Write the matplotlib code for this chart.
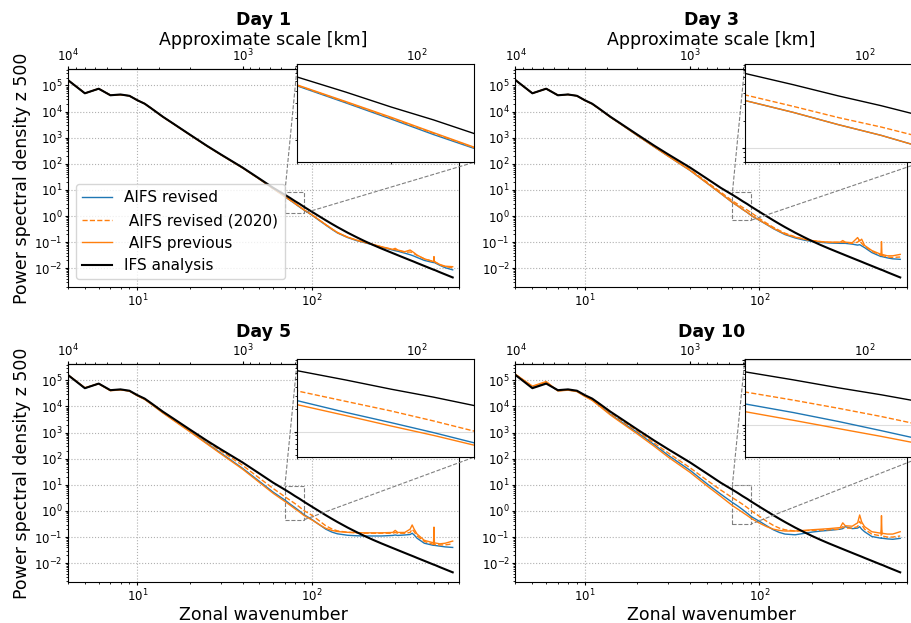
import matplotlib
matplotlib.use("Agg")
import matplotlib.pyplot as plt
import numpy as np
from mpl_toolkits.axes_grid1.inset_locator import mark_inset

wavenumber = [4, 5, 6, 7, 8, 9, 10, 11, 12, 14, 16, 20, 25, 30, 40, 50, 60,
              70, 75, 80, 85, 90,
              100, 110, 120, 130, 140, 160, 180, 200, 225, 250,
              290, 300, 310, 340, 365, 375, 385, 400, 440,
              497, 500, 503, 540, 580, 640]

ifs_analysis = [1.6e5, 5.0e4, 7.5e4, 4.2e4, 4.5e4, 4.0e4, 2.7e4, 2.0e4, 1.33e4,
                6.3e3, 3.5e3, 1.3e3, 4.9e2, 2.3e2, 72, 27, 12,
                6.5, 4.9, 3.7, 2.9, 2.25,
                1.45, 0.98, 0.686, 0.50, 0.376, 0.231, 0.155, 0.110, 0.077, 0.057,
                0.038, 0.0347, 0.0317, 0.0247, 0.0204, 0.019, 0.0177, 0.0159, 0.0123,
                0.00885, 0.0087, 0.00865, 0.00706, 0.00582, 0.00446]

# Day 1
revised_day1 = [1.6e5, 5.0e4, 7.4e4, 4.3e4, 4.4e4, 4.0e4, 2.7e4, 2.0e4, 1.33e4,
                6.3e3, 3.5e3, 1.3e3, 4.8e2, 2.25e2, 70, 26, 11,
                5.5, 4.0, 2.95, 2.2, 1.7,
                1.08, 0.68, 0.45, 0.31, 0.225, 0.15, 0.115, 0.096, 0.078, 0.064,
                0.050, 0.047, 0.045, 0.038, 0.033, 0.031, 0.029, 0.026, 0.020,
                0.0165, 0.0175, 0.0165, 0.013, 0.0105, 0.0087]
revised2020_day1 = [1.6e5, 5.0e4, 7.5e4, 4.25e4, 4.4e4, 4.0e4, 2.7e4, 2.0e4, 1.33e4,
                    6.25e3, 3.48e3, 1.29e3, 4.8e2, 2.25e2, 70, 26, 11.1,
                    5.55, 4.05, 3.0, 2.25, 1.72,
                    1.1, 0.7, 0.46, 0.318, 0.23, 0.153, 0.118, 0.098, 0.08, 0.066,
                    0.052, 0.052, 0.049, 0.041, 0.042, 0.040, 0.036, 0.031, 0.023,
                    0.018, 0.019, 0.018, 0.0135, 0.0115, 0.0105]
previous_day1 = [1.6e5, 5.0e4, 7.5e4, 4.2e4, 4.4e4, 4.0e4, 2.7e4, 2.0e4, 1.33e4,
                 6.2e3, 3.45e3, 1.28e3, 4.8e2, 2.25e2, 70, 26, 11.2,
                 5.6, 4.1, 3.05, 2.28, 1.74,
                 1.12, 0.71, 0.47, 0.325, 0.235, 0.156, 0.12, 0.099, 0.081, 0.067,
                 0.053, 0.058, 0.05, 0.043, 0.05, 0.044, 0.039, 0.032, 0.023,
                 0.018, 0.028, 0.018, 0.014, 0.012, 0.0115]

# Day 3
revised_day3 = [1.6e5, 5.0e4, 7.5e4, 4.2e4, 4.5e4, 4.0e4, 2.65e4, 1.95e4, 1.3e4,
                6.1e3, 3.35e3, 1.2e3, 4.4e2, 1.96e2, 56, 18.3, 7.3,
                3.3, 2.45, 1.8, 1.38, 1.03,
                0.68, 0.47, 0.33, 0.25, 0.195, 0.145, 0.12, 0.106, 0.098, 0.093,
                0.09, 0.09, 0.09, 0.084, 0.077, 0.08, 0.072, 0.062, 0.040,
                0.028, 0.03, 0.028, 0.025, 0.023, 0.022]
revised2020_day3 = [1.6e5, 5.0e4, 7.5e4, 4.2e4, 4.5e4, 4.0e4, 2.67e4, 1.97e4, 1.31e4,
                    6.2e3, 3.4e3, 1.23e3, 4.5e2, 2.05e2, 60, 20, 8.2,
                    3.8, 2.85, 2.15, 1.7, 1.32,
                    0.8, 0.53, 0.37, 0.28, 0.22, 0.16, 0.13, 0.114, 0.104, 0.098,
                    0.097, 0.10, 0.097, 0.09, 0.10, 0.12, 0.09, 0.07, 0.045,
                    0.031, 0.04, 0.031, 0.027, 0.026, 0.027]
previous_day3 = [1.6e5, 5.0e4, 7.5e4, 4.2e4, 4.5e4, 4.0e4, 2.65e4, 1.95e4, 1.3e4,
                 6.1e3, 3.35e3, 1.2e3, 4.4e2, 1.95e2, 56, 18.2, 7.3,
                 3.3, 2.45, 1.8, 1.38, 1.03,
                 0.69, 0.48, 0.34, 0.26, 0.205, 0.155, 0.13, 0.115, 0.105, 0.10,
                 0.10, 0.115, 0.10, 0.095, 0.15, 0.11, 0.13, 0.075, 0.048,
                 0.034, 0.105, 0.034, 0.030, 0.030, 0.034]

# Day 5
revised_day5 = [1.6e5, 5.0e4, 7.5e4, 4.1e4, 4.4e4, 3.9e4, 2.6e4, 1.9e4, 1.25e4,
                5.8e3, 3.15e3, 1.13e3, 3.9e2, 1.66e2, 43, 13.5, 5.2,
                2.6, 1.82, 1.33, 0.98, 0.72,
                0.47, 0.3, 0.2, 0.155, 0.133, 0.117, 0.112, 0.11, 0.11, 0.11,
                0.115, 0.12, 0.115, 0.12, 0.125, 0.14, 0.12, 0.09, 0.058,
                0.048, 0.05, 0.048, 0.045, 0.042, 0.04]
revised2020_day5 = [1.6e5, 5.1e4, 7.5e4, 4.1e4, 4.4e4, 3.95e4, 2.65e4, 1.95e4, 1.3e4,
                    6.1e3, 3.35e3, 1.25e3, 4.5e2, 2.0e2, 56, 18, 7.2,
                    3.5, 2.55, 1.9, 1.4, 1.03,
                    0.68, 0.42, 0.27, 0.205, 0.172, 0.152, 0.145, 0.14, 0.14, 0.14,
                    0.14, 0.15, 0.14, 0.14, 0.15, 0.2, 0.16, 0.11, 0.068,
                    0.052, 0.07, 0.052, 0.05, 0.05, 0.055]
previous_day5 = [1.62e5, 5.2e4, 7.4e4, 4.0e4, 4.3e4, 3.85e4, 2.55e4, 1.85e4, 1.22e4,
                 5.6e3, 3.0e3, 1.07e3, 3.7e2, 1.55e2, 40, 12.3, 4.7,
                 2.3, 1.65, 1.2, 0.9, 0.67,
                 0.45, 0.3, 0.215, 0.18, 0.162, 0.152, 0.148, 0.145, 0.145, 0.145,
                 0.15, 0.18, 0.15, 0.15, 0.2, 0.29, 0.2, 0.13, 0.075,
                 0.06, 0.24, 0.06, 0.055, 0.058, 0.07]

# Day 10
revised_day10 = [1.65e5, 5.5e4, 8.0e4, 4.0e4, 4.3e4, 3.8e4, 2.5e4, 1.8e4, 1.15e4,
                 5.0e3, 2.7e3, 1.0e3, 3.4e2, 1.35e2, 36, 11, 4.4,
                 2.1, 1.55, 1.13, 0.82, 0.6,
                 0.4, 0.27, 0.19, 0.15, 0.13, 0.122, 0.138, 0.155, 0.17, 0.18,
                 0.2, 0.21, 0.25, 0.21, 0.22, 0.25, 0.2, 0.16, 0.105,
                 0.09, 0.095, 0.09, 0.085, 0.082, 0.089]
revised2020_day10 = [1.65e5, 5.8e4, 8.5e4, 4.0e4, 4.3e4, 3.8e4, 2.55e4, 1.85e4, 1.2e4,
                     5.7e3, 3.1e3, 1.13e3, 3.9e2, 1.66e2, 45, 15, 6.3,
                     3.2, 2.4, 1.8, 1.35, 1.0,
                     0.62, 0.4, 0.28, 0.22, 0.19, 0.17, 0.175, 0.18, 0.185, 0.19,
                     0.2, 0.25, 0.22, 0.22, 0.25, 0.4, 0.3, 0.2, 0.13,
                     0.11, 0.2, 0.11, 0.1, 0.1, 0.11]
previous_day10 = [1.7e5, 6.0e4, 9.0e4, 3.9e4, 4.2e4, 3.7e4, 2.4e4, 1.7e4, 1.08e4,
                  4.7e3, 2.5e3, 8.8e2, 2.95e2, 1.15e2, 30, 9.1, 3.6,
                  1.6, 1.18, 0.88, 0.67, 0.51,
                  0.34, 0.25, 0.2, 0.18, 0.17, 0.17, 0.18, 0.19, 0.2, 0.21,
                  0.23, 0.35, 0.27, 0.26, 0.35, 0.7, 0.38, 0.25, 0.16,
                  0.14, 0.66, 0.14, 0.13, 0.13, 0.16]

day_titles = ["Day 1", "Day 3", "Day 5", "Day 10"]
revised = [revised_day1, revised_day3, revised_day5, revised_day10]
revised2020 = [revised2020_day1, revised2020_day3, revised2020_day5, revised2020_day10]
previous = [previous_day1, previous_day3, previous_day5, previous_day10]

# zoom window of the insets
inset_xlim = (70, 90)
inset_ylims = [(1.3, 8.3), (0.7, 8.2), (0.46, 9.3), (0.32, 10.2)]


def wavenumber_to_km(k):
    k = np.asarray(k, dtype=float)
    with np.errstate(divide="ignore", invalid="ignore"):
        return 40000.0 / k


def draw_spectra(ax, rev, r20, prev, ifs_lw):
    ax.plot(wavenumber, rev, color="tab:blue", lw=1.0, label="AIFS revised")
    ax.plot(wavenumber, r20, color="tab:orange", ls="--", lw=1.0,
            label=" AIFS revised (2020)")
    ax.plot(wavenumber, prev, color="tab:orange", lw=1.0, label=" AIFS previous")
    ax.plot(wavenumber, ifs_analysis, color="black", lw=ifs_lw, label="IFS analysis")


def small_ticks(axis_obj, pad=1.8):
    axis_obj.tick_params(which="major", length=2.2, pad=pad, labelsize=8.5)
    axis_obj.tick_params(which="minor", length=1.3)


fig, axes = plt.subplots(2, 2, figsize=(9.11, 6.23), dpi=100)
fig.subplots_adjust(left=0.0746, right=0.9956, bottom=0.0658, top=0.889,
                    wspace=0.143, hspace=0.353)

for i, ax in enumerate(axes.flat):
    row, col = divmod(i, 2)
    draw_spectra(ax, revised[i], revised2020[i], previous[i], 1.5)
    ax.set_xscale("log")
    ax.set_yscale("log")
    ax.set_xlim(4, 700)
    ax.set_ylim(1.9e-3, 4.2e5)
    ax.grid(True, which="major", ls=":", color="#b0b0b0", lw=0.8)
    small_ticks(ax)
    ax.set_title(day_titles[i], fontweight="bold", fontsize=12.5, pad=4)

    sec = ax.secondary_xaxis("top", functions=(wavenumber_to_km, wavenumber_to_km))
    small_ticks(sec, pad=1.5)
    if row == 0:
        sec.set_xlabel("Approximate scale [km]", fontsize=12.5, labelpad=2)
    if row == 1:
        ax.set_xlabel("Zonal wavenumber", fontsize=12.5, labelpad=1.5)
    if col == 0:
        ax.set_ylabel("Power spectral density z 500", fontsize=12.5, labelpad=2)
    if i == 0:
        ax.legend(loc="lower left", fontsize=11)

    axins = ax.inset_axes([0.586, 0.572, 0.45, 0.451])
    draw_spectra(axins, revised[i], revised2020[i], previous[i], 1.0)
    axins.set_xscale("log")
    axins.set_yscale("log")
    axins.set_xlim(*inset_xlim)
    axins.set_ylim(*inset_ylims[i])
    axins.grid(True, which="major", ls="-", color="#dddddd", lw=0.8)
    axins.tick_params(which="both", labelbottom=False, labelleft=False)
    axins.tick_params(which="major", length=2.2)
    axins.tick_params(which="minor", length=1.3)
    mark_inset(ax, axins, loc1=2, loc2=4, fc="none", ec="0.5", ls="--", lw=0.8)

fig.savefig("out.png", dpi=100)
